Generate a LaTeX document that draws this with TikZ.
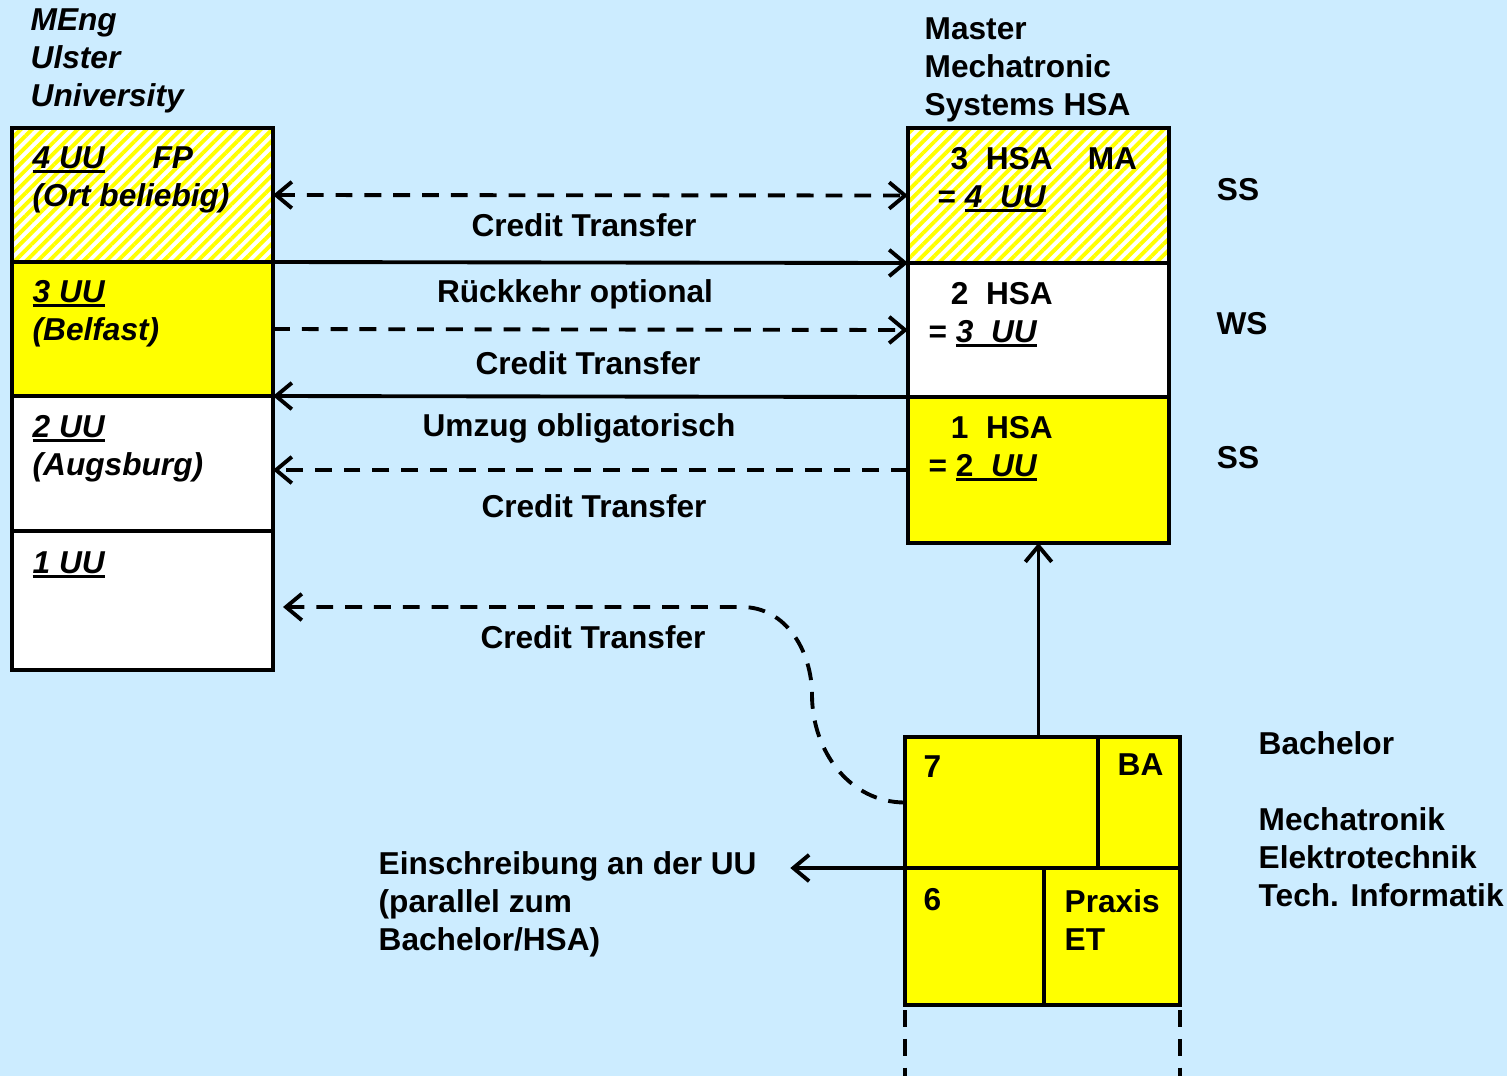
\documentclass[tikz,border=0pt]{standalone}
\usepackage{fontspec}
\setmainfont{Liberation Sans}
\usepackage{tikz}
\usetikzlibrary{arrows.meta}
\usetikzlibrary{patterns.meta}
\definecolor{bgblue}{HTML}{CCECFF}
\definecolor{semyellow}{HTML}{FFFF00}
\newcommand{\lblfont}{\fontsize{9}{10.8}\selectfont\bfseries}
\newcommand{\uln}[1]{\setbox0\hbox{#1}\rlap{\rule[-1.2pt]{\wd0}{0.9pt}}\box0}

\begin{document}
\begin{tikzpicture}[font=\lblfont,
  >={Straight Barb[length=4.5pt,width=7.5pt]},
  sem/.style={draw=black,line width=1pt,anchor=north west,minimum width=2.61cm,inner sep=0pt,outer sep=0pt},
  hatched/.style={preaction={fill=white},pattern={Lines[angle=45,distance=2.3pt,line width=1.1pt]},pattern color=semyellow},
  txt/.style={anchor=north west,align=left,inner sep=0pt},
  itxt/.style={txt,font=\lblfont\itshape},
  lab/.style={anchor=base,inner sep=0pt},
  conn/.style={line width=1.1pt},
  dsh/.style={conn,dash pattern=on 4.8pt off 3.4pt}]
\useasboundingbox (0,0) rectangle (15.07,-10.76);
\fill[bgblue] (0,0) rectangle (15.07,-10.76);
\coordinate (bottom) at (0,-10.76);

\node[sem,hatched,minimum height=1.34cm] (uu4) at (0.12,-1.28) {};
\node[sem,fill=semyellow,minimum height=1.34cm] (uu3) at (uu4.south west) {};
\node[sem,fill=white,minimum height=1.35cm] (uu2) at (uu3.south west) {};
\node[sem,fill=white,minimum height=1.39cm] (uu1) at (uu2.south west) {};

\node[sem,hatched,minimum height=1.35cm] (hsa3) at (9.08,-1.28) {};
\node[sem,fill=white,minimum height=1.34cm] (hsa2) at (hsa3.south west) {};
\node[sem,fill=semyellow,minimum height=1.46cm] (hsa1) at (hsa2.south west) {};

\node[sem,fill=semyellow,minimum width=1.93cm,minimum height=1.31cm] (b7) at (9.05,-7.37) {};
\node[sem,fill=semyellow,minimum width=0.82cm,minimum height=1.31cm] (bba) at (b7.north east) {};
\node[sem,fill=semyellow,minimum width=1.39cm,minimum height=1.37cm] (b6) at (b7.south west) {};
\node[sem,fill=semyellow,minimum width=1.36cm,minimum height=1.37cm] (bpx) at (b6.north east) {};

\node[itxt] (meng) at (0.30,-0.08) {MEng\\Ulster\\University};
\node[txt] (master) at (9.24,-0.17) {Master\\Mechatronic\\Systems HSA};
\node[txt] (bachelor) at (12.58,-7.31) {Bachelor\\[10.8pt]Mechatronik\\Elektrotechnik\\Tech. Informatik};
\node[txt] (ein) at (3.78,-8.51) {Einschreibung an der UU\\(parallel zum\\Bachelor/HSA)};

\node[itxt] (t4uu) at (0.32,-1.46) {\uln{4 UU}\hspace{13.6pt}FP\\(Ort beliebig)};
\node[itxt] (t3uu) at (0.32,-2.80) {\uln{3 UU}\\(Belfast)};
\node[itxt] (t2uu) at (0.32,-4.15) {\uln{2 UU}\\(Augsburg)};
\node[itxt] (t1uu) at (0.32,-5.51) {\uln{1 UU}};

\node[txt] (t3hsa) at (9.37,-1.47) {\hspace*{3.7pt}3~~HSA~~~~MA\\= \uln{\itshape 4~~UU}};
\node[txt] (t2hsa) at (9.28,-2.82) {\hspace*{6.3pt}2~~HSA\\= \uln{\itshape 3~~UU}};
\node[txt] (t1hsa) at (9.28,-4.16) {\hspace*{6.3pt}1~~HSA\\= \uln{2~~\itshape UU}};

\node[txt] (t7) at (9.23,-7.55) {7};
\node[txt] (tba) at (11.17,-7.53) {BA};
\node[txt] (t6) at (9.23,-8.88) {6};
\node[txt] (tpx) at (10.64,-8.89) {Praxis\\ET};

\node[lab] (ss1) at (12.38,-2.00) {SS};
\node[lab] (ws) at (12.42,-3.34) {WS};
\node[lab] (ss2) at (12.38,-4.68) {SS};

\node[lab] (ct1) at (5.84,-2.36) {Credit Transfer};
\node[lab] (back) at (5.75,-3.02) {Rückkehr optional};
\node[lab] (ct2) at (5.88,-3.74) {Credit Transfer};
\node[lab] (move) at (5.79,-4.36) {Umzug obligatorisch};
\node[lab] (ct3) at (5.94,-5.17) {Credit Transfer};
\node[lab] (ct4) at (5.93,-6.48) {Credit Transfer};

\draw[dsh,<->] (uu4.east) -- (hsa3.west);
\draw[conn,->] (uu4.south east) -- (hsa3.south west);
\draw[dsh,->] (uu3.east) -- (hsa2.west);
\draw[conn,->] (hsa2.south west) -- (uu3.south east);
\draw[dsh,->] (hsa1.west) -- (hsa1.west -| uu2.east);
\draw[conn,->] (hsa1.south |- b7.north) -- (hsa1.south);
\draw[conn,->] (b7.south west) -- ([xshift=0.33cm]b7.south west -| ein.east);

\coordinate (ct4end) at (2.83,-6.07);
\draw[dsh,->] (b7.west) to[out=180,in=270] (8.12,-6.95) to[out=90,in=0] (7.42,-6.07) -- (ct4end);

\draw[dsh] ([yshift=-0.05cm]b6.south west) -- (b6.south west |- bottom);
\draw[dsh] ([yshift=-0.05cm]bpx.south east) -- (bpx.south east |- bottom);
\end{tikzpicture}
\end{document}
